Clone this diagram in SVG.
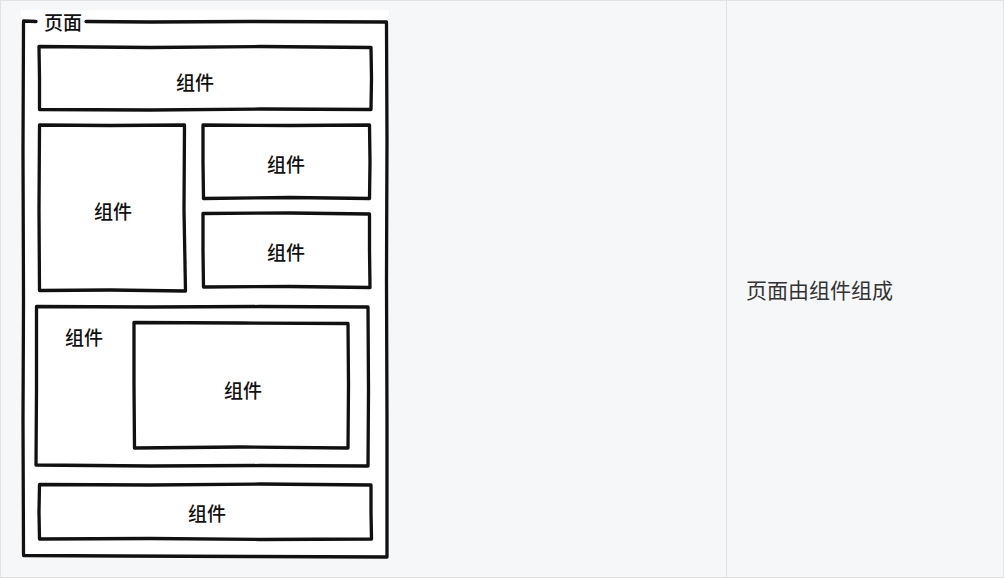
<svg xmlns="http://www.w3.org/2000/svg" width="1005" height="579" viewBox="0 0 1005 579">
<style>
.sk{fill:none;stroke:#111;stroke-width:3.3;stroke-linejoin:round;stroke-linecap:round}
.lb{font-family:"Noto Sans CJK SC","Noto Sans",sans-serif;font-size:19px;font-weight:500;fill:#111;text-anchor:middle}
.cap{font-family:"Noto Sans CJK SC","Noto Sans",sans-serif;font-size:21px;fill:#333}
</style>
<rect x="0" y="0" width="1005" height="579" fill="#ffffff"/>
<g id="table">
<rect x="0.5" y="0.5" width="1003" height="577" fill="#f6f7f9" stroke="#e1e3e6" stroke-width="1"/>
<line x1="726.5" y1="0.5" x2="726.5" y2="577.5" stroke="#e1e3e6" stroke-width="1"/>
<text class="cap" x="746" y="297.5">页面由组件组成</text>
</g>
<rect x="21" y="10" width="368" height="548" fill="#ffffff"/>
<g id="page">
<path class="sk" d="M36 21.5 L23.5 21 L23 150 L23.5 300 L23 420 L23.5 555.5 L120 556 L250 556.5 L387 557 L387 420 L386.5 280 L387 140 L386.5 22 L250 21.5 L150 22 L86 21.5"/>
<text class="lb" x="63" y="30">页面</text>
</g>
<g id="comp-top">
<path class="sk" d="M39 46.5 L150 47.5 L260 46.5 L371 47.5 L371.5 78 L371 109.5 L260 109 L150 110 L39.5 109.5 L39.5 78 Z"/>
<text class="lb" x="195" y="90">组件</text>
</g>
<g id="comp-left">
<path class="sk" d="M39.5 125 L110 125.5 L184.5 125 L184 210 L185.5 291 L110 290 L39.5 290.5 L39 210 Z"/>
<text class="lb" x="113" y="219">组件</text>
</g>
<g id="comp-right-1">
<path class="sk" d="M203 125 L290 125.5 L369.5 125 L370 162 L369.5 198.5 L290 197.5 L203.5 198.5 L203 162 Z"/>
<text class="lb" x="286" y="171.5">组件</text>
</g>
<g id="comp-right-2">
<path class="sk" d="M203 213.5 L290 213 L369.5 214 L369.5 250 L370 287.5 L290 286.5 L203.5 287 L203 250 Z"/>
<text class="lb" x="286" y="259.5">组件</text>
</g>
<g id="comp-container">
<path class="sk" d="M36.5 306.5 L150 307 L260 306.5 L368 307 L368.5 390 L368 466 L260 465.5 L150 466 L36 465 L36.5 390 Z"/>
<text class="lb" x="84" y="345">组件</text>
</g>
<g id="comp-inner">
<path class="sk" d="M134 322.5 L240 323 L348 323.5 L348.5 385 L348 448 L240 447 L134.5 448 L134 385 Z"/>
<text class="lb" x="243" y="397.5">组件</text>
</g>
<g id="comp-bottom">
<path class="sk" d="M39.5 484.5 L150 485 L260 484 L371 485 L371 512 L371.5 539 L260 539.5 L150 538.5 L39.5 539 L39 512 Z"/>
<text class="lb" x="207" y="521">组件</text>
</g>
<g id="connectors"></g>
</svg>
